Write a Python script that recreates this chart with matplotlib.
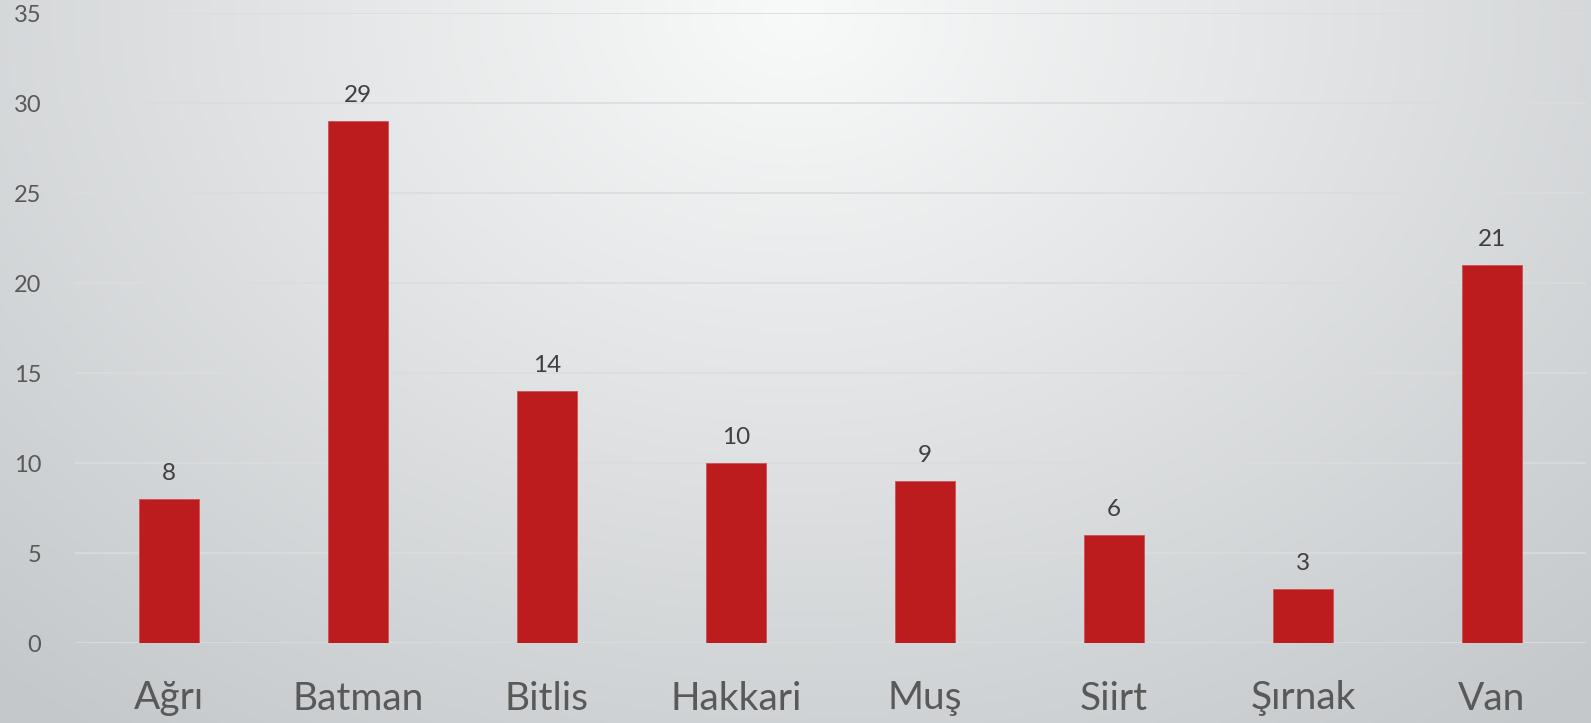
import numpy as np
import matplotlib
matplotlib.use("Agg")
import matplotlib.pyplot as plt

categories = ["Ağrı", "Batman", "Bitlis", "Hakkari", "Muş", "Siirt", "Şırnak", "Van"]
values = [8, 29, 14, 10, 9, 6, 3, 21]
yticks = [0, 5, 10, 15, 20, 25, 30, 35]

plt.rcParams['font.family'] = ['Lato', 'DejaVu Sans']

W, H, DPI = 1591, 723, 100
fig = plt.figure(figsize=(W / DPI, H / DPI), dpi=DPI)

# background radial gradient
bg = fig.add_axes([0, 0, 1, 1], zorder=-10)
gx, gy = np.meshgrid(np.linspace(0, 1, 400), np.linspace(0, 1, 200))
r = np.sqrt(((gx - 0.5) / 0.75) ** 2 + ((gy - 0.02) / 1.25) ** 2)
r = np.clip(r, 0, 1)
light = np.array([0.975, 0.978, 0.978])
dark = np.array([0.77, 0.785, 0.795])
img = light[None, None, :] * (1 - r[..., None]) + dark[None, None, :] * r[..., None]
bg.imshow(img, extent=[0, 1, 0, 1], aspect='auto', origin='upper')
bg.axis('off')

ax = fig.add_axes([74.5 / W, 80 / H, 1512 / W, 630 / H])
ax.patch.set_alpha(0)
x = np.arange(len(categories))
bars = ax.bar(x, values, width=0.315, color='#BC1C1E', edgecolor='#D05050', linewidth=0.6, zorder=3)
for xi, v in zip(x, values):
    ax.annotate(str(v), (xi, v), xytext=(0, 11), textcoords='offset points',
                ha='center', va='bottom', fontsize=17.5, color='#404040')

ax.set_xlim(-0.5, len(categories) - 0.5)
ax.set_ylim(0, 35)
ax.set_yticks(yticks)
ax.set_yticklabels([str(t) for t in yticks], fontsize=17, color='#595959')
ax.set_xticks(x)
ax.set_xticklabels(categories, fontsize=28, color='#595959')
ax.tick_params(axis='y', length=0, pad=24)
ax.tick_params(axis='x', length=0, pad=27)
ax.grid(axis='y', color='#DADCDD', linewidth=1.2, zorder=0)
ax.set_axisbelow(True)
for s in ax.spines.values():
    s.set_visible(False)

fig.savefig("out.png", dpi=DPI)
